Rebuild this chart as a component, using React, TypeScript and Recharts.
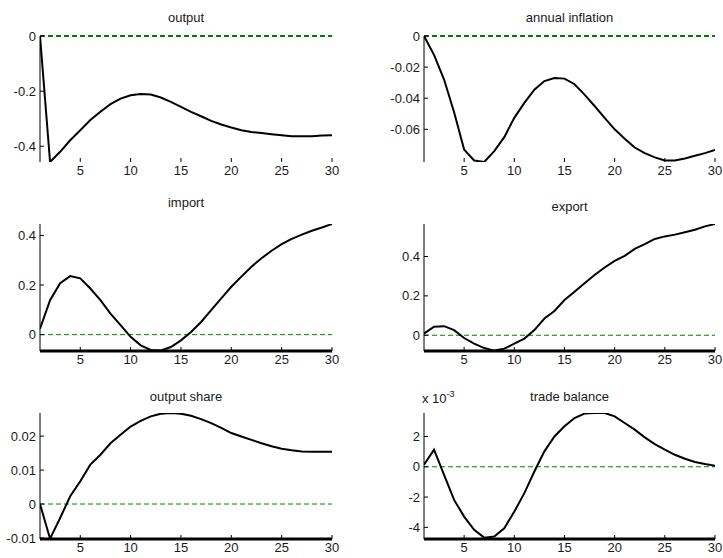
import React from "react";
import {
  LineChart,
  Line,
  XAxis,
  YAxis,
  ReferenceLine,
} from "recharts";

// impulse responses (periods 1..30)
const periods = [
  1, 2, 3, 4, 5, 6, 7, 8, 9, 10, 11, 12, 13, 14, 15, 16, 17, 18, 19, 20, 21,
  22, 23, 24, 25, 26, 27, 28, 29, 30,
];

const output = [
  0, -0.457, -0.42, -0.378, -0.342, -0.305, -0.275, -0.247, -0.227, -0.215,
  -0.21, -0.212, -0.223, -0.239, -0.257, -0.275, -0.291, -0.308, -0.321,
  -0.332, -0.342, -0.348, -0.352, -0.356, -0.36, -0.364, -0.364, -0.364,
  -0.361, -0.36,
];

const inflation = [
  0, -0.0121, -0.028, -0.049, -0.073, -0.08, -0.081, -0.074, -0.065, -0.0526,
  -0.043, -0.0345, -0.029, -0.027, -0.0274, -0.031, -0.0377, -0.045, -0.0526,
  -0.06, -0.066, -0.0717, -0.0753, -0.078, -0.08, -0.08, -0.0787, -0.077,
  -0.0753, -0.0732,
];

const imports = [
  0.024, 0.139, 0.207, 0.236, 0.227, 0.186, 0.139, 0.085, 0.038, -0.009,
  -0.043, -0.062, -0.064, -0.05, -0.023, 0.011, 0.051, 0.099, 0.146, 0.193,
  0.234, 0.274, 0.308, 0.338, 0.365, 0.386, 0.403, 0.419, 0.432, 0.446,
];

const exports = [
  0.0085, 0.043, 0.046, 0.026, -0.014, -0.043, -0.065, -0.078, -0.068, -0.043,
  -0.017, 0.026, 0.085, 0.123, 0.179, 0.221, 0.264, 0.306, 0.344, 0.378,
  0.403, 0.439, 0.463, 0.489, 0.502, 0.511, 0.523, 0.536, 0.553, 0.565,
];

const outputShare = [
  0, -0.0102, -0.0041, 0.0023, 0.0067, 0.0116, 0.0145, 0.0179, 0.0204, 0.0228,
  0.0245, 0.0258, 0.0266, 0.0268, 0.0266, 0.026, 0.025, 0.0238, 0.0224,
  0.0209, 0.0199, 0.0189, 0.0179, 0.017, 0.0163, 0.0158, 0.0155, 0.0154,
  0.0154, 0.0154,
];

// x 10^-3
const tradeBalance = [
  0.13, 1.13, -0.53, -2.19, -3.29, -4.17, -4.68, -4.61, -4.06, -2.96, -1.74,
  -0.31, 1.02, 2.0, 2.67, 3.22, 3.51, 3.55, 3.55, 3.33, 2.89, 2.45, 1.94, 1.5,
  1.13, 0.79, 0.53, 0.31, 0.18, 0.07,
];

const xTicks = [5, 10, 15, 20, 25, 30];

const font = "'Liberation Sans', Arial, sans-serif";
const tickStyle = { fontSize: 13, fill: "#1a1a1a", fontFamily: font };

type PanelProps = {
  title: string;
  values: number[];
  domain: [number, number];
  yTicks: number[];
  left: number;
  top: number;
  width: number;
  height: number;
  yAxisWidth: number;
  marginTop: number;
  marginRight: number;
  titleTop: number;
  bottomLine: number;
  topLine: boolean;
  greenTop?: boolean;
  children?: React.ReactNode;
};

function Panel(p: PanelProps) {
  const rows = periods.map((t, i) => ({ t, v: p.values[i] }));
  const plotLeft = p.left + p.yAxisWidth;
  const plotWidth = p.width - p.yAxisWidth - p.marginRight;
  return (
    <>
      <div
        style={{
          position: "absolute",
          left: plotLeft,
          width: plotWidth,
          top: p.titleTop,
          textAlign: "center",
          fontFamily: font,
          fontSize: 13,
          color: "#1a1a1a",
          lineHeight: "15px",
        }}
      >
        {p.title}
      </div>
      {p.children}
      <div style={{ position: "absolute", left: p.left, top: p.top }}>
        <LineChart
          width={p.width}
          height={p.height}
          data={rows}
          margin={{ top: p.marginTop, right: p.marginRight, bottom: 0, left: 0 }}
        >
          <XAxis
            dataKey="t"
            type="number"
            domain={[1, 30]}
            ticks={xTicks}
            allowDataOverflow
            height={24}
            tick={tickStyle}
            tickSize={-4}
            tickMargin={8}
            tickLine={{ stroke: "#000" }}
            axisLine={
              p.bottomLine > 0
                ? { stroke: "#000", strokeWidth: p.bottomLine }
                : false
            }
          />
          <XAxis
            xAxisId="top"
            dataKey="t"
            type="number"
            orientation="top"
            domain={[1, 30]}
            ticks={xTicks}
            allowDataOverflow
            height={0}
            tick={false}
            tickSize={-4}
            tickLine={{ stroke: "#000" }}
            axisLine={p.topLine ? { stroke: "#000" } : false}
          />
          <YAxis
            type="number"
            domain={p.domain}
            ticks={p.yTicks}
            allowDataOverflow
            width={p.yAxisWidth}
            tick={tickStyle}
            tickSize={-4}
            tickMargin={8}
            tickLine={{ stroke: "#000" }}
            axisLine={{ stroke: "#000" }}
          />
          <YAxis
            yAxisId="right"
            orientation="right"
            type="number"
            domain={p.domain}
            ticks={p.yTicks}
            allowDataOverflow
            width={0}
            tick={false}
            tickSize={-4}
            tickLine={{ stroke: "#000" }}
            axisLine={{ stroke: "#000" }}
          />
          <ReferenceLine
            y={0}
            stroke="#008000"
            strokeWidth={p.greenTop ? 2 : 1}
            strokeDasharray="5 3"
          />
          <Line
            type="linear"
            dataKey="v"
            stroke="#000"
            strokeWidth={2}
            dot={false}
            isAnimationActive={false}
          />
        </LineChart>
      </div>
    </>
  );
}

export default function App() {
  return (
    <div
      style={{
        position: "absolute",
        left: 0,
        top: 0,
        width: 723,
        height: 558,
        background: "#fff",
        overflow: "hidden",
      }}
    >
      <Panel
        title="output"
        values={output}
        domain={[-0.457, 0]}
        yTicks={[-0.4, -0.2, 0]}
        left={0}
        top={0}
        width={362}
        height={186}
        yAxisWidth={40}
        marginTop={36}
        marginRight={30}
        titleTop={10}
        bottomLine={0}
        topLine
        greenTop
      />
      <Panel
        title="annual inflation"
        values={inflation}
        domain={[-0.081, 0]}
        yTicks={[-0.06, -0.04, -0.02, 0]}
        left={362}
        top={0}
        width={361}
        height={186}
        yAxisWidth={62}
        marginTop={36}
        marginRight={8}
        titleTop={10}
        bottomLine={0}
        topLine
        greenTop
      />
      <Panel
        title="import"
        values={imports}
        domain={[-0.066, 0.446]}
        yTicks={[0, 0.2, 0.4]}
        left={0}
        top={186}
        width={362}
        height={189}
        yAxisWidth={40}
        marginTop={38}
        marginRight={30}
        titleTop={195}
        bottomLine={3}
        topLine
      />
      <Panel
        title="export"
        values={exports}
        domain={[-0.08, 0.565]}
        yTicks={[0, 0.2, 0.4]}
        left={362}
        top={186}
        width={361}
        height={189}
        yAxisWidth={62}
        marginTop={38}
        marginRight={8}
        titleTop={199}
        bottomLine={3}
        topLine
      />
      <Panel
        title="output share"
        values={outputShare}
        domain={[-0.0103, 0.0268]}
        yTicks={[-0.01, 0, 0.01, 0.02]}
        left={0}
        top={375}
        width={362}
        height={188}
        yAxisWidth={40}
        marginTop={38}
        marginRight={30}
        titleTop={389}
        bottomLine={3}
        topLine={false}
      />
      <Panel
        title="trade balance"
        values={tradeBalance}
        domain={[-4.77, 3.55]}
        yTicks={[-4, -2, 0, 2]}
        left={362}
        top={375}
        width={361}
        height={188}
        yAxisWidth={62}
        marginTop={38}
        marginRight={8}
        titleTop={389}
        bottomLine={3}
        topLine={false}
      >
        <div
          style={{
            position: "absolute",
            left: 422,
            top: 391,
            fontFamily: font,
            fontSize: 13,
            color: "#1a1a1a",
            lineHeight: "15px",
          }}
        >
          x 10<sup style={{ fontSize: 9, verticalAlign: "6px", lineHeight: 0 }}>-3</sup>
        </div>
      </Panel>
    </div>
  );
}
